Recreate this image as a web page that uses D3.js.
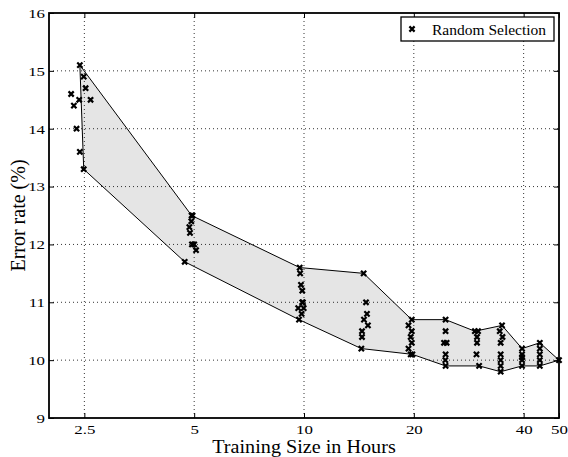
<!DOCTYPE html>
<html>
<head>
<meta charset="utf-8">
<script src="https://cdn.jsdelivr.net/npm/d3@7"></script>
<style>
  body { margin: 0; background: #fff; }
  text { font-family: "Liberation Serif", "Times New Roman", serif; fill: #000; }
</style>
</head>
<body>
<script>
// data
const sizes = [2.5, 5, 10, 15, 20, 25, 30, 35, 40, 45, 50];
const runHours = [
  [2.43, 2.49, 2.52, 2.30, 2.42, 2.60, 2.34, 2.38, 2.43, 2.49],
  [4.92, 4.95, 4.91, 4.85, 4.87, 4.93, 5.00, 5.06, 4.71],
  [9.73, 9.76, 9.81, 9.89, 9.89, 9.93, 9.64, 9.98, 9.85, 9.69],
  [14.57, 14.79, 14.88, 14.60, 14.97, 14.42, 14.42, 14.36],
  [19.74, 19.34, 19.74, 19.61, 19.74, 19.34, 19.82, 19.61],
  [24.44, 24.44, 24.2, 24.6, 24.44, 24.4, 24.44],
  [29.4, 30.0, 29.8, 29.8, 29.7, 30.2],
  [34.9, 34.4, 35.0, 34.6, 34.6, 34.6, 34.6, 34.6],
  [39.6, 39.6, 39.6, 39.6, 39.6],
  [44.3, 44.3, 44.3, 44.3, 44.3],
  [50]
];
const runErrors = [
  [15.1, 14.9, 14.7, 14.6, 14.5, 14.5, 14.4, 14.0, 13.6, 13.3],
  [12.5, 12.5, 12.4, 12.3, 12.2, 12.0, 12.0, 11.9, 11.7],
  [11.6, 11.5, 11.3, 11.2, 11.0, 11.0, 10.9, 10.9, 10.8, 10.7],
  [11.5, 11.0, 10.8, 10.7, 10.6, 10.5, 10.4, 10.2],
  [10.7, 10.6, 10.5, 10.4, 10.3, 10.2, 10.1, 10.1],
  [10.7, 10.5, 10.3, 10.3, 10.1, 10.0, 9.9],
  [10.5, 10.5, 10.4, 10.3, 10.1, 9.9],
  [10.6, 10.5, 10.4, 10.3, 10.1, 10.0, 9.9, 9.8],
  [10.2, 10.1, 10.05, 10.0, 9.9],
  [10.3, 10.2, 10.1, 10.0, 9.9],
  [10.0]
];
const xTicks = [2.5, 5, 10, 20, 40, 50];
const xTickLabels = ["2.5", "5", "10", "20", "40", "50"];
const yTicks = [9, 10, 11, 12, 13, 14, 15, 16];

const W = 568, H = 457;
const pLeft = 49, pRight = 559, pTop = 13, pBottom = 418;

const svg = d3.select("body").append("svg")
  .attr("width", W)
  .attr("height", H);

const x = d3.scaleLog().domain([2, 50]).range([pLeft, pRight]);
const y = d3.scaleLinear().domain([9, 16]).range([pBottom, pTop]);

// points grouped per training size
let groups = sizes.map((s, i) => runHours[i].map((h, j) => ({hours: h, err: runErrors[i][j]})));
let allPts = groups.flat();

let upper = groups.map(g => d3.greatest(g, d => d.err));
let lower = groups.map(g => d3.least(g, d => d.err));

// shaded band between best and worst runs
let band = upper.concat(lower.slice().reverse());
let line = d3.line().x(d => x(d.hours)).y(d => y(d.err));
svg.append("path")
  .attr("d", line(band) + "Z")
  .attr("fill", "#e5e5e5")
  .attr("stroke", "none");

// dotted grid
let grid = svg.append("g").attr("class", "grid")
  .attr("stroke", "#000")
  .attr("stroke-width", 0.8)
  .attr("stroke-dasharray", "1,3");
grid.selectAll("line.v")
  .data(xTicks.filter(t => t < 50))
  .enter().append("line")
    .attr("x1", d => x(d)).attr("x2", d => x(d))
    .attr("y1", pTop).attr("y2", pBottom);
grid.selectAll("line.h")
  .data(yTicks.filter(t => t > 9 && t < 16))
  .enter().append("line")
    .attr("x1", pLeft).attr("x2", pRight)
    .attr("y1", d => y(d)).attr("y2", d => y(d));

// band outline
svg.append("path")
  .attr("d", line(band) + "Z")
  .attr("fill", "none")
  .attr("stroke", "#000")
  .attr("stroke-width", 1);

// axes (ticks pointing inward)
let xAxis = svg.append("g")
  .attr("transform", `translate(0,${pBottom})`)
  .call(d3.axisBottom(x).tickValues(xTicks).tickFormat((d, i) => xTickLabels[i]).tickSizeInner(-5).tickSizeOuter(0).tickPadding(6));
let xTop = svg.append("g")
  .attr("transform", `translate(0,${pTop})`)
  .call(d3.axisTop(x).tickValues(xTicks).tickFormat("").tickSizeInner(-5).tickSizeOuter(0));
let yAxis = svg.append("g")
  .attr("transform", `translate(${pLeft},0)`)
  .call(d3.axisLeft(y).tickValues(yTicks).tickFormat(d3.format("d")).tickSizeInner(-5).tickSizeOuter(0).tickPadding(3.2));
let yRight = svg.append("g")
  .attr("transform", `translate(${pRight},0)`)
  .call(d3.axisRight(y).tickValues(yTicks).tickFormat("").tickSizeInner(-5).tickSizeOuter(0));

[xAxis, xTop, yAxis, yRight].forEach(a => {
  a.select(".domain").remove();
  a.selectAll(".tick line").attr("stroke", "#000").attr("stroke-width", 1);
});
[xAxis, yAxis].forEach(a => {
  a.selectAll(".tick text")
    .attr("font-family", "Liberation Serif")
    .attr("font-size", 13.5)
    .attr("fill", "#000")
    .attr("transform", "scale(1.25,1)");
});

// frame
svg.append("rect")
  .attr("x", pLeft).attr("y", pTop)
  .attr("width", pRight - pLeft).attr("height", pBottom - pTop)
  .attr("fill", "none")
  .attr("stroke", "#000")
  .attr("stroke-width", 1.8);

// markers
function cross(g) {
  g.append("path")
    .attr("d", "M-2.6,-2.6L2.6,2.6M-2.6,2.6L2.6,-2.6")
    .attr("stroke", "#000")
    .attr("stroke-width", 2.2)
    .attr("fill", "none");
}
svg.append("g").selectAll("g")
  .data(allPts)
  .enter().append("g")
    .attr("transform", d => `translate(${x(d.hours)},${y(d.err)})`)
    .call(cross);

// axis titles
svg.append("text")
  .attr("transform", `translate(${(pLeft + pRight) / 2},452.5) scale(1.12,1)`)
  .attr("text-anchor", "middle")
  .attr("font-size", 18)
  .text("Training Size in Hours");

svg.append("text")
  .attr("transform", `translate(25,${(pTop + pBottom) / 2}) rotate(-90)`)
  .attr("text-anchor", "middle")
  .attr("font-size", 20)
  .text("Error rate (%)");

// legend
let leg = svg.append("g");
leg.append("rect")
  .attr("x", 401).attr("y", 17)
  .attr("width", 153).attr("height", 24)
  .attr("fill", "#fff")
  .attr("stroke", "#000")
  .attr("stroke-width", 1.3);
leg.append("g")
  .attr("transform", "translate(412,29)")
  .call(cross);
leg.append("text")
  .attr("x", 432).attr("y", 34.5)
  .attr("font-size", 15.5)
  .text("Random Selection");
</script>
</body>
</html>
